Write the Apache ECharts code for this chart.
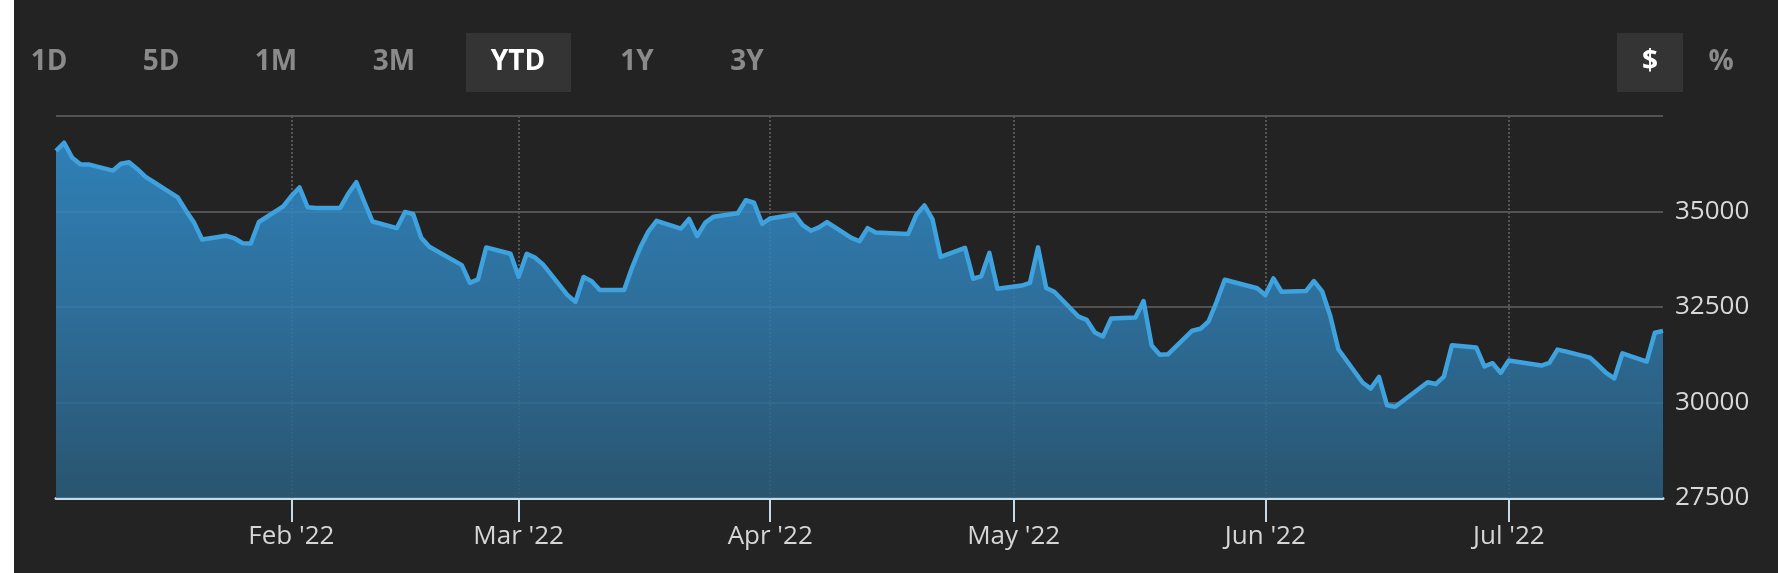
<!DOCTYPE html>
<html>
<head>
<meta charset="utf-8">
<script src="https://cdn.jsdelivr.net/npm/echarts@6/dist/echarts.min.js"></script>
<style>
  html, body { margin: 0; padding: 0; background: #ffffff; }
  #chart { width: 1778px; height: 573px; }
</style>
</head>
<body>
<div id="chart"></div>
<script>
// ---- data ----
const dates = [
  '2022-01-03','2022-01-04','2022-01-05','2022-01-06','2022-01-07',
  '2022-01-10','2022-01-11','2022-01-12','2022-01-13','2022-01-14',
  '2022-01-18','2022-01-19','2022-01-20','2022-01-21',
  '2022-01-24','2022-01-25','2022-01-26','2022-01-27','2022-01-28',
  '2022-01-31','2022-02-01','2022-02-02','2022-02-03','2022-02-04',
  '2022-02-07','2022-02-08','2022-02-09','2022-02-10','2022-02-11',
  '2022-02-14','2022-02-15','2022-02-16','2022-02-17','2022-02-18',
  '2022-02-22','2022-02-23','2022-02-24','2022-02-25',
  '2022-02-28','2022-03-01','2022-03-02','2022-03-03','2022-03-04',
  '2022-03-07','2022-03-08','2022-03-09','2022-03-10','2022-03-11',
  '2022-03-14','2022-03-15','2022-03-16','2022-03-17','2022-03-18',
  '2022-03-21','2022-03-22','2022-03-23','2022-03-24','2022-03-25',
  '2022-03-28','2022-03-29','2022-03-30','2022-03-31','2022-04-01',
  '2022-04-04','2022-04-05','2022-04-06','2022-04-07','2022-04-08',
  '2022-04-11','2022-04-12','2022-04-13','2022-04-14',
  '2022-04-18','2022-04-19','2022-04-20','2022-04-21','2022-04-22',
  '2022-04-25','2022-04-26','2022-04-27','2022-04-28','2022-04-29',
  '2022-05-02','2022-05-03','2022-05-04','2022-05-05','2022-05-06',
  '2022-05-09','2022-05-10','2022-05-11','2022-05-12','2022-05-13',
  '2022-05-16','2022-05-17','2022-05-18','2022-05-19','2022-05-20',
  '2022-05-23','2022-05-24','2022-05-25','2022-05-26','2022-05-27',
  '2022-05-31','2022-06-01','2022-06-02','2022-06-03',
  '2022-06-06','2022-06-07','2022-06-08','2022-06-09','2022-06-10',
  '2022-06-13','2022-06-14','2022-06-15','2022-06-16','2022-06-17',
  '2022-06-21','2022-06-22','2022-06-23','2022-06-24',
  '2022-06-27','2022-06-28','2022-06-29','2022-06-30','2022-07-01',
  '2022-07-05','2022-07-06','2022-07-07','2022-07-08',
  '2022-07-11','2022-07-12','2022-07-13','2022-07-14','2022-07-15',
  '2022-07-18','2022-07-19','2022-07-20'
];
const closes = [
  36585, 36800, 36407, 36236, 36232,
  36069, 36252, 36290, 36114, 35912,
  35368, 35029, 34715, 34265,
  34364, 34298, 34168, 34161, 34725,
  35132, 35405, 35629, 35111, 35090,
  35091, 35463, 35768, 35242, 34738,
  34566, 34989, 34934, 34312, 34079,
  33597, 33132, 33224, 34059,
  33893, 33295, 33891, 33795, 33615,
  32817, 32633, 33286, 33174, 32944,
  32945, 33544, 34063, 34481, 34755,
  34553, 34807, 34359, 34708, 34861,
  34956, 35294, 35229, 34678, 34818,
  34922, 34641, 34497, 34584, 34721,
  34308, 34220, 34565, 34451,
  34412, 34911, 35161, 34793, 33811,
  34049, 33240, 33302, 33916, 32977,
  33062, 33129, 34061, 32998, 32899,
  32246, 32161, 31834, 31730, 32197,
  32223, 32655, 31490, 31253, 31262,
  31880, 31929, 32120, 32637, 33213,
  32990, 32813, 33248, 32900,
  32916, 33180, 32911, 32273, 31393,
  30517, 30365, 30669, 29927, 29889,
  30530, 30483, 30677, 31501,
  31438, 30947, 31029, 30775, 31097,
  30968, 31038, 31385, 31338,
  31174, 30981, 30773, 30630, 31288,
  31073, 31827, 31875
];
const monthTickDates = ['2022-02-01','2022-03-01','2022-04-01','2022-05-01','2022-06-01','2022-07-01'];
const monthTickLabels = ["Feb '22","Mar '22","Apr '22","May '22","Jun '22","Jul '22"];
const yMin = 27500, yMax = 37500, yStep = 2500;
const rangeButtons = ['1D','5D','1M','3M','YTD','1Y','3Y'];
const activeRange = 'YTD';
const unitButtons = ['$','%'];
const activeUnit = '$';

// ---- layout (not data) ----
const rangeButtonX = [49, 161, 276, 394, 518, 637, 747];
const unitButtonX = [1650, 1721];

function toTs(s) {
  const p = s.split('-').map(Number);
  return new Date(p[0], p[1] - 1, p[2]).getTime();
}
const seriesData = dates.map((d, i) => [toTs(d), closes[i]]);
const monthTs = monthTickDates.map(toTs);

const graphics = [
  { type: 'rect', shape: { x: 0, y: 0, width: 14, height: 573 }, style: { fill: '#ffffff' }, silent: true }
];
rangeButtons.forEach((t, i) => {
  const active = t === activeRange;
  if (active) {
    graphics.push({ type: 'rect', shape: { x: rangeButtonX[i] - 52, y: 33, width: 105, height: 59 }, style: { fill: '#343434' }, silent: true });
  }
  graphics.push({
    type: 'text', x: rangeButtonX[i], y: 62, silent: true,
    style: { text: t, fill: active ? '#ffffff' : '#8a8a8a', font: 'bold 28px "Open Sans", sans-serif', align: 'center', verticalAlign: 'middle' }
  });
});
unitButtons.forEach((t, i) => {
  const active = t === activeUnit;
  if (active) {
    graphics.push({ type: 'rect', shape: { x: unitButtonX[i] - 33, y: 33, width: 66, height: 59 }, style: { fill: '#343434' }, silent: true });
  }
  graphics.push({
    type: 'text', x: unitButtonX[i], y: 62, silent: true,
    style: { text: t, fill: active ? '#ffffff' : '#8a8a8a', font: 'bold 28px "Open Sans", sans-serif', align: 'center', verticalAlign: 'middle' }
  });
});

const chart = echarts.init(document.getElementById('chart'), null, { renderer: 'canvas' });
chart.setOption({
  animation: false,
  backgroundColor: '#232323',
  graphic: graphics,
  grid: { left: 56, right: 115, top: 116, bottom: 75, containLabel: false },
  xAxis: {
    type: 'value',
    min: seriesData[0][0],
    max: seriesData[seriesData.length - 1][0],
    axisLine: { show: true, lineStyle: { color: '#c6d9e6', width: 3 } },
    axisTick: { show: true, customValues: monthTs, length: 24, lineStyle: { color: '#c6d9e6', width: 2 } },
    axisLabel: {
      show: true, customValues: monthTs, margin: 26,
      color: '#d6d6d6', fontSize: 26, fontFamily: '"Open Sans", sans-serif',
      formatter: function (v) {
        const i = monthTs.indexOf(v);
        return i >= 0 ? monthTickLabels[i] : '';
      }
    },
    splitLine: { show: false }
  },
  yAxis: {
    type: 'value',
    position: 'right',
    min: yMin, max: yMax, interval: yStep,
    axisLine: { show: false },
    axisTick: { show: false },
    axisLabel: {
      color: '#d9d9d9', fontSize: 26, fontFamily: '"Open Sans", sans-serif', margin: 12,
      showMaxLabel: false,
      formatter: function (v) { return v === yMax ? '' : String(v); }
    },
    splitLine: { show: true, lineStyle: { color: '#525252', width: 2 } }
  },
  series: [{
    type: 'line',
    data: seriesData,
    showSymbol: false,
    symbol: 'none',
    lineStyle: { color: '#3ea2de', width: 4.5, join: 'round' },
    areaStyle: {
      opacity: 1,
      color: new echarts.graphic.LinearGradient(0, 0, 0, 1, [
        { offset: 0, color: 'rgba(49,144,208,0.85)' },
        { offset: 0.45, color: 'rgba(48,124,176,0.85)' },
        { offset: 1, color: 'rgba(42,93,124,0.85)' }
      ])
    },
    z: 3,
    markLine: {
      silent: true,
      z: 1,
      symbol: 'none',
      label: { show: false },
      lineStyle: { color: '#555555', type: 'dotted', width: 2 },
      data: monthTs.map(t => ({ xAxis: t }))
    }
  }]
});
</script>
</body>
</html>
